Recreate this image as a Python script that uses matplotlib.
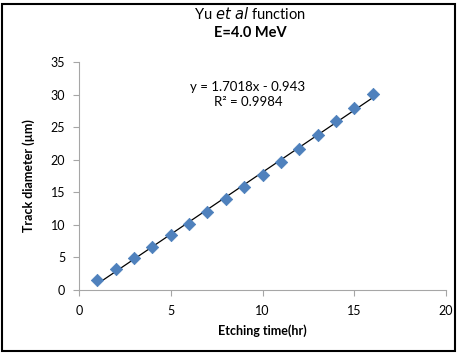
import matplotlib
matplotlib.use("Agg")
import matplotlib.pyplot as plt
import numpy as np
from matplotlib.patches import Rectangle

plt.rcParams['font.family'] = ['Lato', 'DejaVu Sans']

etching_time = [1, 2, 3, 4, 5, 6, 7, 8, 9, 10, 11, 12, 13, 14, 15, 16]
track_diameter = [1.6, 3.2, 4.9, 6.6, 8.4, 10.2, 12.0, 13.9, 15.8, 17.7, 19.7, 21.7, 23.8, 25.9, 28.0, 30.1]
eq_slope = "1.7018"
eq_intercept = "0.943"
r_squared = "0.9984"
x_ticks = [0, 5, 10, 15, 20]
y_ticks = [0, 5, 10, 15, 20, 25, 30, 35]

W, H = 459, 354
fig = plt.figure(figsize=(W / 100, H / 100), dpi=100)
ax = fig.add_axes([79 / W, 1 - 290 / H, (446 - 79) / W, (290 - 62) / H])

ax.scatter(etching_time, track_diameter, marker='D', s=40, color='#4F81BD',
           edgecolors='#4A7EBB', linewidths=0.5, zorder=3)
coef = np.polyfit(etching_time, track_diameter, 1)
xf = np.array([etching_time[0], etching_time[-1]], dtype=float)
ax.plot(xf, np.polyval(coef, xf), color='black', lw=0.9, zorder=2)

ax.set_xlim(0, 20)
ax.set_ylim(0, 35)
ax.set_xticks(x_ticks)
ax.set_yticks(y_ticks)
for s in ['top', 'right']:
    ax.spines[s].set_visible(False)
for s in ['left', 'bottom']:
    ax.spines[s].set_color('#A6A6A6')
    ax.spines[s].set_linewidth(0.8)
ax.tick_params(axis='both', colors='#A6A6A6', labelcolor='black', labelsize=9,
               length=4, width=0.8, direction='out')
ax.tick_params(axis='x', pad=7)
ax.tick_params(axis='y', pad=6)

ax.set_xlabel('Etching time(hr)', fontsize=9, fontweight='bold', labelpad=5)
ax.set_ylabel('Track diameter (µm)', fontsize=9, fontweight='bold', labelpad=11)

ax.text(9.2, 30.0, f'y = {eq_slope}x - {eq_intercept}\nR² = {r_squared}',
        ha='center', va='center', fontsize=9.5, linespacing=1.3)

fig.text(250 / W, 1 - 14 / H, 'Yu $\\it{et\\ al}$ function', ha='center', va='center', fontsize=10.5)
fig.text(250 / W, 1 - 33 / H, 'E=4.0 MeV', ha='center', va='center', fontsize=10.5, fontweight='bold')

fig.patches.append(Rectangle((2 / W, 3 / H), (455 - 2) / W, (350 - 3) / H,
                             transform=fig.transFigure, fill=False, edgecolor='black', lw=1.5))

fig.savefig('out.png', dpi=100)
